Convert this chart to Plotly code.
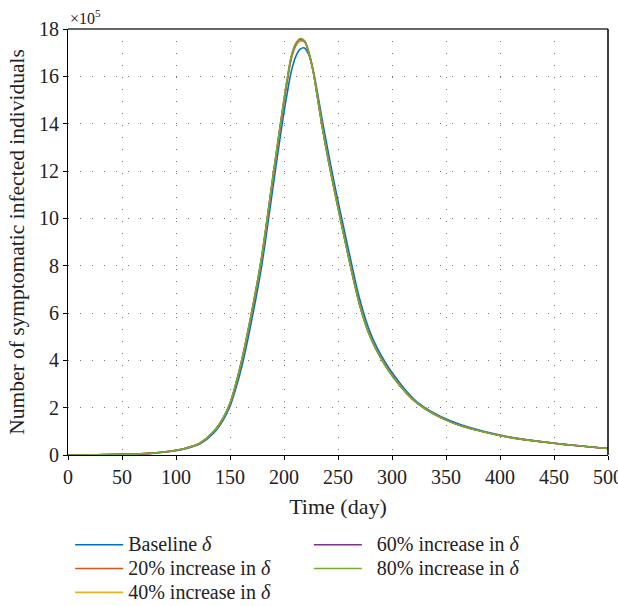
import plotly.graph_objects as go

# Time points (day)
days = [0, 25, 50, 75, 100, 110, 122, 135, 144, 150, 155, 161, 169, 179, 185, 191, 197, 203, 207,
        211, 215, 219, 223, 227, 231, 236, 243, 252, 261, 270, 278, 286, 301, 323, 354, 400, 450, 500]

# Symptomatic infected individuals, in units of 1e5
baseline = [0.0, 0.01, 0.03, 0.06, 0.18, 0.28, 0.46, 0.93, 1.5, 2.05, 2.75, 3.75, 5.45, 7.9, 9.75,
            11.7, 13.6, 15.3, 16.25, 16.85, 17.15, 17.2, 16.9, 16.25, 15.3, 14.0, 12.3, 10.3, 8.4,
            6.6, 5.4, 4.55, 3.42, 2.25, 1.45, 0.84, 0.5, 0.28]
inc20 = [0.0, 0.01, 0.03, 0.07, 0.2, 0.3, 0.49, 0.98, 1.57, 2.16, 2.9, 3.98, 5.72, 8.2, 10.1, 12.07,
         13.97, 15.78, 16.78, 17.3, 17.5, 17.45, 17.0, 16.25, 15.15, 13.75, 12.05, 10.05, 8.13, 6.38,
         5.23, 4.42, 3.32, 2.2, 1.4, 0.82, 0.5, 0.28]
inc40 = [0.0, 0.01, 0.03, 0.07, 0.2, 0.3, 0.5, 0.99, 1.58, 2.18, 2.92, 4.01, 5.76, 8.25, 10.15, 12.13,
         14.03, 15.84, 16.84, 17.35, 17.55, 17.48, 17.0, 16.22, 15.12, 13.72, 12.02, 10.02, 8.11, 6.36,
         5.21, 4.41, 3.31, 2.2, 1.4, 0.82, 0.5, 0.28]
inc60 = [0.0, 0.01, 0.03, 0.07, 0.2, 0.3, 0.5, 1.0, 1.59, 2.19, 2.94, 4.03, 5.78, 8.28, 10.18, 12.17,
         14.07, 15.87, 16.87, 17.38, 17.58, 17.49, 17.0, 16.21, 15.11, 13.71, 12.01, 10.01, 8.1, 6.35,
         5.2, 4.4, 3.3, 2.2, 1.4, 0.82, 0.5, 0.28]
inc80 = [0.0, 0.01, 0.03, 0.07, 0.2, 0.3, 0.5, 1.0, 1.6, 2.2, 2.95, 4.05, 5.8, 8.3, 10.2, 12.2, 14.1,
         15.9, 16.9, 17.4, 17.6, 17.5, 17.0, 16.2, 15.1, 13.7, 12.0, 10.0, 8.1, 6.35, 5.2, 4.4, 3.3,
         2.2, 1.4, 0.82, 0.5, 0.28]

labels = ["Baseline <i>δ</i>", "20% increase in <i>δ</i>", "40% increase in <i>δ</i>",
          "\u00a0\u00a060% increase in <i>δ</i>", "\u00a0\u00a080% increase in <i>δ</i>"]
series = [baseline, inc20, inc40, inc60, inc80]
colors = ["#0072BD", "#D95319", "#EDB120", "#7E2F8E", "#77AC30"]
legends = ["legend", "legend", "legend", "legend2", "legend2"]

x_ticks = [0, 50, 100, 150, 200, 250, 300, 350, 400, 450, 500]
y_ticks = [0, 2, 4, 6, 8, 10, 12, 14, 16, 18]

FONT = "Liberation Serif"
TXT = "#222222"

fig = go.Figure()
for name, vals, col, lg in zip(labels, series, colors, legends):
    fig.add_trace(go.Scatter(
        x=days, y=vals, mode="lines",
        name='<span style="font-size:20px">' + name + '</span>',
        line=dict(color=col, width=1.6, shape="spline", smoothing=1.0),
        legend=lg))

axis_common = dict(showline=True, linecolor="black", linewidth=1, ticks="outside",
                   ticklen=4, tickcolor="black", showgrid=True, gridcolor="#777777",
                   griddash="1px,11px", gridwidth=1, zeroline=False, automargin=False,
                   ticklabeloverflow="allow",
                   tickfont=dict(family=FONT, size=20, color=TXT))

legend_common = dict(yanchor="top", xanchor="left", orientation="v", y=-0.171,
                     bgcolor="rgba(0,0,0,0)", font=dict(family=FONT, size=16, color=TXT),
                     itemwidth=48, tracegroupgap=0)

fig.update_layout(
    width=618, height=606,
    margin=dict(l=68, r=10, t=29, b=151, autoexpand=False),
    paper_bgcolor="white", plot_bgcolor="white",
    font=dict(family=FONT, size=20, color=TXT),
    showlegend=True,
    xaxis=dict(range=[0, 500], tickvals=x_ticks,
               title=dict(text="Time (day)", font=dict(family=FONT, size=22, color=TXT), standoff=11),
               **axis_common),
    yaxis=dict(range=[0, 18], tickvals=y_ticks,
               title=dict(text="Number of symptomatic infected individuals",
                          font=dict(family=FONT, size=21.5, color=TXT), standoff=8),
               **axis_common),
    legend=dict(x=0.004, **legend_common),
    legend2=dict(x=0.446, **legend_common),
    shapes=[
        dict(type="line", xref="paper", yref="paper", x0=0, x1=1, y0=1, y1=1,
             line=dict(color="#666666", width=2)),
        dict(type="line", xref="paper", yref="paper", x0=1, x1=1, y0=0, y1=1,
             line=dict(color="black", width=1.5)),
    ],
    annotations=[
        dict(text="×10<sup>5</sup>", xref="paper", yref="paper", x=0, y=1, xanchor="left",
             yanchor="bottom", showarrow=False, font=dict(family=FONT, size=16, color=TXT)),
    ],
)

fig.write_html("out.html")
